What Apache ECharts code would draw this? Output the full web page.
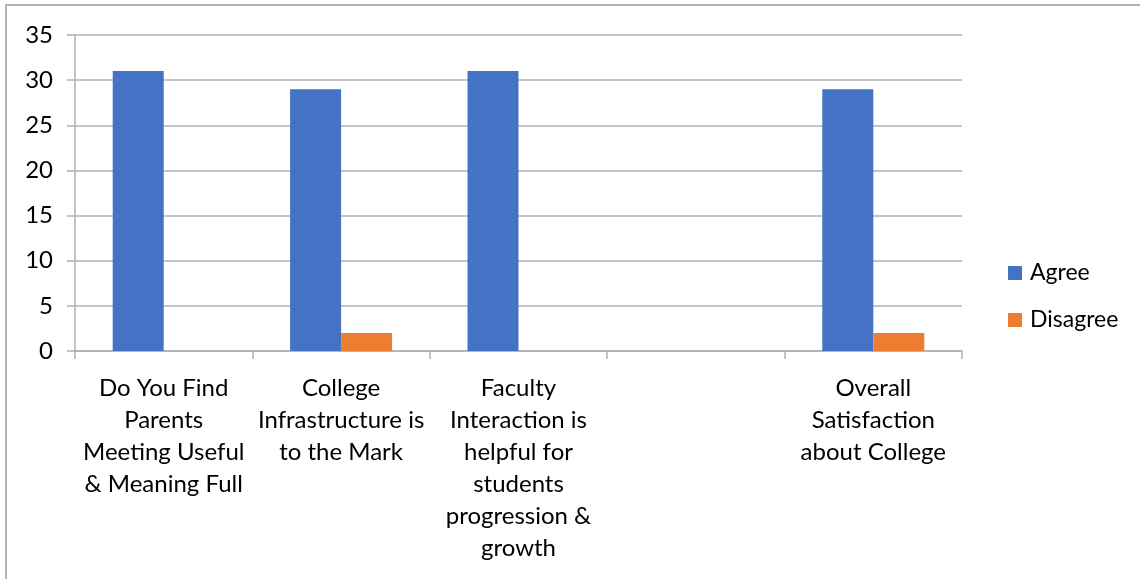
<!DOCTYPE html>
<html>
<head>
<meta charset="utf-8">
<script src="https://cdn.jsdelivr.net/npm/echarts@6/dist/echarts.min.js"></script>
<style>
html,body{margin:0;padding:0;background:#fff;}
#chart{width:1140px;height:579px;}
</style>
</head>
<body>
<div id="chart"></div>
<script>
const categories = [
  "Do You Find\nParents\nMeeting Useful\n& Meaning Full",
  "College\nInfrastructure is\nto the Mark",
  "Faculty\nInteraction is\nhelpful for\nstudents\nprogression &\ngrowth",
  "",
  "Overall\nSatisfaction\nabout College"
];
const seriesNames = ["Agree", "Disagree"];
const agree = [31, 29, 31, 0, 29];
const disagree = [0, 2, 0, 0, 2];
const yTicks = { min: 0, max: 35, interval: 5 };

const FONT = "Lato, 'Open Sans', sans-serif";
const chart = echarts.init(document.getElementById('chart'), null, {renderer: 'canvas'});
chart.setOption({
  animation: false,
  color: ['#4472C4', '#ED7D31'],
  graphic: [{
    type: 'rect',
    shape: {x: 6, y: 5, width: 1200, height: 700},
    style: {fill: 'none', stroke: '#b4b4b4', lineWidth: 2},
    silent: true
  }],
  grid: {left: 75, right: 178, top: 35, bottom: 228, containLabel: false},
  legend: {
    orient: 'vertical',
    left: 1003,
    top: 256,
    itemWidth: 14,
    itemHeight: 14,
    itemGap: 23,
    icon: 'rect',
    textStyle: {fontFamily: FONT, fontSize: 23, lineHeight: 24, color: '#000', padding: [0, 0, 0, 3]},
    data: seriesNames
  },
  xAxis: {
    type: 'category',
    data: categories,
    axisLine: {lineStyle: {color: '#b0b0b0', width: 1.5}},
    axisTick: {show: true, length: 8, lineStyle: {color: '#b0b0b0', width: 1.5}},
    axisLabel: {
      interval: 0,
      margin: 21,
      fontFamily: FONT,
      fontSize: 24,
      lineHeight: 32,
      color: '#000',
      verticalAlign: 'top'
    }
  },
  yAxis: {
    type: 'value',
    min: yTicks.min,
    max: yTicks.max,
    interval: yTicks.interval,
    axisLine: {show: true, lineStyle: {color: '#b0b0b0', width: 1.5}},
    axisTick: {show: true, length: 8, lineStyle: {color: '#b0b0b0', width: 1.5}},
    splitLine: {lineStyle: {color: '#b0b0b0', width: 1.5}},
    axisLabel: {fontFamily: FONT, fontSize: 24, color: '#000', margin: 22}
  },
  series: [
    {name: seriesNames[0], type: 'bar', data: agree, barWidth: 51, barGap: '0%'},
    {name: seriesNames[1], type: 'bar', data: disagree, barWidth: 51, barGap: '0%'}
  ]
});
</script>
</body>
</html>
